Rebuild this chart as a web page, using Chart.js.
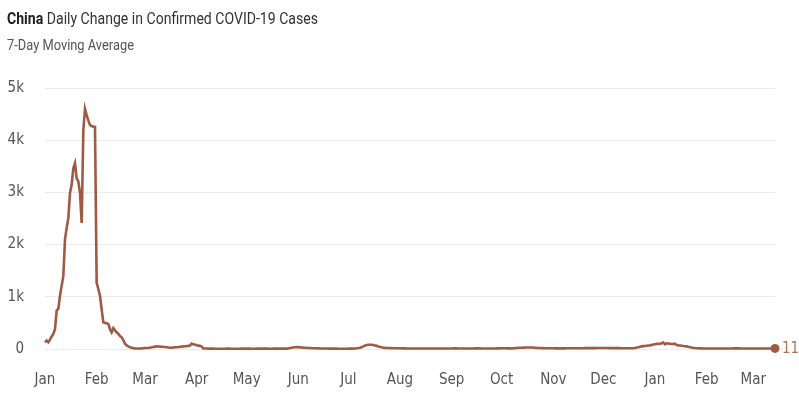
<!DOCTYPE html>
<html>
<head>
<meta charset="utf-8">
<script src="https://cdn.jsdelivr.net/npm/chart.js@4"></script>
<style>
  html, body { margin: 0; padding: 0; background: #fff; }
  body { width: 799px; height: 399px; position: relative; overflow: hidden; font-family: Roboto, sans-serif; }
  .title { position: absolute; left: 7px; top: 8px; font-size: 17px; color: #333; white-space: nowrap; transform-origin: 0 0; }
  .title b { color: #222; }
  .subtitle { position: absolute; left: 7px; top: 37px; font-size: 14.5px; color: #555; white-space: nowrap; transform-origin: 0 0; }
  .chart-box { position: absolute; left: 0; top: 0; width: 799px; height: 399px; }
</style>
</head>
<body>
<div class="chart-box"><canvas id="chart"></canvas></div>
<div class="title" id="title"><b>China</b> Daily Change in Confirmed COVID-19 Cases</div>
<div class="subtitle" id="subtitle">7-Day Moving Average</div>
<script>
// first day of the series, one value per day after it
const startDate = [2020, 0, 22];
const monthNames = ['Jan', 'Feb', 'Mar', 'Apr', 'May', 'Jun', 'Jul', 'Aug', 'Sep', 'Oct', 'Nov', 'Dec'];
const labelDay = 22;

// 7-day moving average of new confirmed cases
const movingAvg = [
    130, 160, 130, 180, 240, 290, 380, 740, 770, 1020,
    1210, 1400, 2100, 2320, 2510, 2990, 3150, 3460, 3560, 3270,
    3210, 2990, 2415, 4190, 4600, 4480, 4380, 4290, 4270, 4260,
    4255, 1270, 1150, 1020, 760, 510, 500, 495, 480, 380,
    320, 400, 360, 320, 290, 250, 225, 170, 100, 70,
    50, 35, 25, 15, 12, 10, 10, 10, 12, 15,
    18, 20, 22, 25, 32, 40, 46, 50, 48, 45,
    42, 40, 37, 35, 30, 25, 26, 28, 32, 35,
    38, 40, 45, 50, 52, 55, 60, 65, 105, 90,
    80, 70, 65, 60, 45, 12, 10, 9, 8, 8,
    7, 7, 6, 6, 6, 5, 5, 6, 6, 7,
    7, 6, 6, 5, 5, 5, 6, 6, 7, 7,
    8, 8, 7, 7, 6, 6, 6, 7, 7, 8,
    8, 8, 7, 7, 7, 6, 6, 7, 7, 8,
    8, 8, 8, 8, 8, 8, 12, 18, 25, 30,
    33, 35, 34, 32, 30, 27, 25, 22, 20, 18,
    16, 15, 14, 13, 12, 11, 10, 10, 9, 9,
    8, 8, 8, 7, 7, 7, 6, 6, 6, 6,
    6, 6, 7, 7, 7, 8, 10, 13, 18, 25,
    35, 50, 65, 75, 80, 82, 80, 75, 68, 60,
    50, 40, 32, 25, 22, 20, 18, 17, 16, 15,
    15, 14, 13, 13, 12, 12, 12, 11, 11, 11,
    10, 10, 9, 9, 9, 9, 9, 10, 10, 10,
    10, 10, 11, 11, 11, 11, 11, 10, 10, 10,
    10, 10, 10, 11, 11, 12, 12, 12, 11, 11,
    11, 11, 10, 10, 10, 10, 11, 11, 12, 12,
    12, 12, 11, 11, 11, 10, 10, 10, 11, 11,
    11, 12, 12, 12, 13, 13, 13, 12, 12, 12,
    12, 14, 16, 18, 21, 23, 25, 27, 29, 30,
    30, 29, 28, 27, 25, 22, 20, 18, 17, 16,
    15, 14, 14, 13, 13, 13, 12, 12, 12, 12,
    12, 12, 12, 13, 13, 13, 14, 14, 14, 14,
    15, 15, 15, 15, 16, 16, 16, 17, 17, 17,
    17, 18, 18, 18, 19, 19, 19, 18, 18, 17,
    17, 17, 16, 16, 16, 16, 15, 15, 15, 15,
    15, 15, 15, 15, 20, 27, 35, 45, 50, 55,
    58, 62, 66, 70, 78, 86, 93, 100, 98, 100,
    110, 125, 90, 110, 105, 100, 95, 98, 100, 75,
    70, 66, 62, 58, 54, 50, 42, 35, 28, 22,
    18, 15, 13, 12, 12, 11, 11, 11, 11, 11,
    11, 11, 10, 10, 10, 10, 10, 11, 11, 11,
    11, 11, 11, 12, 12, 12, 12, 12, 11, 11,
    11, 11, 11, 11, 10, 10, 10, 10, 11, 11,
    11, 11, 11, 11, 11, 11, 11, 11, 11
];
const lastLabel = '11';

const lineColor = '#a05a44';
const axisFont = '"DejaVu Sans Condensed", Roboto, sans-serif';

// squeeze the header text to the condensed width of the original
function fitWidth(id, target) {
    const el = document.getElementById(id);
    el.style.transform = 'scaleX(' + (target / el.getBoundingClientRect().width) + ')';
}
fitWidth('title', 311);
fitWidth('subtitle', 127);

const dates = movingAvg.map((_, i) => new Date(startDate[0], startDate[1], startDate[2] + i));
const labels = dates.map(d => d.getFullYear() + '-' + (d.getMonth() + 1) + '-' + d.getDate());

const endLabel = {
    id: 'endLabel',
    afterDatasetsDraw(chart) {
        const meta = chart.getDatasetMeta(0);
        const pt = meta.data[meta.data.length - 1];
        const ctx = chart.ctx;
        ctx.save();
        ctx.fillStyle = '#ad745f';
        ctx.font = '15px ' + axisFont;
        ctx.textBaseline = 'middle';
        ctx.textAlign = 'left';
        ctx.fillText(lastLabel, pt.x + 7, pt.y + 1);
        ctx.restore();
    }
};

new Chart(document.getElementById('chart'), {
    type: 'line',
    data: {
        labels,
        datasets: [{
            data: movingAvg,
            borderColor: lineColor,
            backgroundColor: lineColor,
            borderWidth: 2.6,
            tension: 0,
            clip: false,
            pointRadius: (c) => c.dataIndex === movingAvg.length - 1 ? 4.5 : 0,
            pointHoverRadius: 0,
            pointBorderWidth: 0
        }]
    },
    options: {
        responsive: true,
        maintainAspectRatio: false,
        animation: false,
        layout: { padding: { top: 88, right: 24, bottom: 8, left: 0 } },
        plugins: {
            legend: { display: false },
            tooltip: { enabled: false }
        },
        scales: {
            x: {
                afterFit: (scale) => { scale.height = 42; },
                grid: { display: false },
                border: { display: false },
                ticks: {
                    autoSkip: false,
                    maxRotation: 0,
                    padding: 14,
                    color: '#555',
                    font: { size: 15, family: axisFont },
                    callback: (v, i) => dates[i].getDate() === labelDay ? monthNames[dates[i].getMonth()] : ''
                }
            },
            y: {
                min: 0,
                max: 5000,
                afterFit: (scale) => { scale.width = 45; },
                grid: { color: '#ececec', drawTicks: false },
                border: { display: false },
                ticks: {
                    stepSize: 1000,
                    padding: 21,
                    color: '#555',
                    font: { size: 15, family: axisFont },
                    callback: (v) => v === 0 ? '0' : (v / 1000) + 'k'
                }
            }
        }
    },
    plugins: [endLabel]
});
</script>
</body>
</html>
